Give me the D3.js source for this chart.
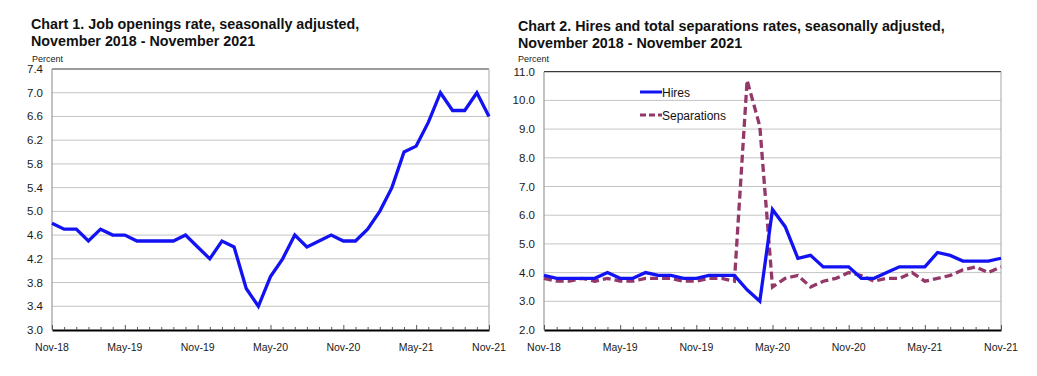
<!DOCTYPE html>
<html>
<head>
<meta charset="utf-8">
<title>JOLTS charts</title>
<script src="https://d3js.org/d3.v7.min.js"></script>
<style>
  body { margin: 0; background: #fff; }
  svg { display: block; font-family: "Liberation Sans", Arial, sans-serif; }
</style>
</head>
<body>
<div id="viz"></div>
<script>

// months, Nov 2018 - Nov 2021
var months = ["Nov-18","Dec-18","Jan-19","Feb-19","Mar-19","Apr-19","May-19","Jun-19","Jul-19","Aug-19","Sep-19","Oct-19",
              "Nov-19","Dec-19","Jan-20","Feb-20","Mar-20","Apr-20","May-20","Jun-20","Jul-20","Aug-20","Sep-20","Oct-20",
              "Nov-20","Dec-20","Jan-21","Feb-21","Mar-21","Apr-21","May-21","Jun-21","Jul-21","Aug-21","Sep-21","Oct-21","Nov-21"];
var xTickLabels = ["Nov-18","May-19","Nov-19","May-20","Nov-20","May-21","Nov-21"];

// chart 1 - job openings rate
var jobOpenings = [4.8,4.7,4.7,4.5,4.7,4.6,4.6,4.5,4.5,4.5,4.5,4.6,
                   4.4,4.2,4.5,4.4,3.7,3.4,3.9,4.2,4.6,4.4,4.5,4.6,
                   4.5,4.5,4.7,5.0,5.4,6.0,6.1,6.5,7.0,6.7,6.7,7.0,6.6];
var yTicks1 = [3.0,3.4,3.8,4.2,4.6,5.0,5.4,5.8,6.2,6.6,7.0,7.4];

// chart 2 - hires and total separations
var hires = [3.9,3.8,3.8,3.8,3.8,4.0,3.8,3.8,4.0,3.9,3.9,3.8,
             3.8,3.9,3.9,3.9,3.4,3.0,6.2,5.6,4.5,4.6,4.2,4.2,
             4.2,3.8,3.8,4.0,4.2,4.2,4.2,4.7,4.6,4.4,4.4,4.4,4.5];
var separations = [3.8,3.7,3.7,3.8,3.7,3.8,3.7,3.7,3.8,3.8,3.8,3.7,
                   3.7,3.8,3.8,3.7,10.7,9.1,3.5,3.8,3.9,3.5,3.7,3.8,
                   4.0,3.9,3.7,3.8,3.8,4.0,3.7,3.8,3.9,4.1,4.2,4.0,4.2];
var yTicks2 = [2.0,3.0,4.0,5.0,6.0,7.0,8.0,9.0,10.0,11.0];
var legendLabels = ["Hires","Separations"];

var svg = d3.select("#viz").append("svg")
    .attr("width", 1037)
    .attr("height", 376);

// draws one chart panel; returns its scales
function drawPanel(opt) {
  var x = d3.scalePoint().domain(months).range([opt.left, opt.right]);
  var y = d3.scaleLinear().domain([opt.yTicks[0], opt.yTicks[opt.yTicks.length - 1]])
    .range([opt.bottom, opt.top]);

  var g = svg.append("g");

  // titles
  g.append("text").attr("x", opt.titleX).attr("y", opt.titleY)
    .style("font-size", "14.3px").style("font-weight", "bold").attr("fill", "#111")
    .text(opt.title[0]);
  g.append("text").attr("x", opt.titleX).attr("y", opt.titleY + 17)
    .style("font-size", "14.3px").style("font-weight", "bold").attr("fill", "#111")
    .text(opt.title[1]);
  g.append("text").attr("x", opt.percentX).attr("y", 62)
    .style("font-size", "9px").attr("fill", "#222")
    .text("Percent");

  // gridlines
  g.append("g").selectAll("line")
    .data(opt.yTicks.slice(1, -1))
    .enter().append("line")
      .attr("x1", opt.left).attr("x2", opt.right)
      .attr("y1", function(d) { return y(d); })
      .attr("y2", function(d) { return y(d); })
      .attr("stroke", "#c4c4c4").attr("stroke-width", 1);

  // frame: top dark, left + right gray
  g.append("line").attr("x1", opt.left).attr("x2", opt.right)
    .attr("y1", y(opt.yTicks[opt.yTicks.length - 1])).attr("y2", y(opt.yTicks[opt.yTicks.length - 1]))
    .attr("stroke", "#3a3a3a").attr("stroke-width", 1.2);
  g.append("line").attr("x1", opt.right).attr("x2", opt.right)
    .attr("y1", opt.top).attr("y2", opt.bottom)
    .attr("stroke", "#b4b4b4").attr("stroke-width", 1.2);
  g.append("line").attr("x1", opt.left).attr("x2", opt.left)
    .attr("y1", opt.top).attr("y2", opt.bottom)
    .attr("stroke", "#9a9a9a").attr("stroke-width", 1.2);

  // y labels
  g.append("g").selectAll("text")
    .data(opt.yTicks)
    .enter().append("text")
      .attr("x", opt.left - 9)
      .attr("y", function(d) { return y(d) + 4; })
      .attr("text-anchor", "end")
      .style("font-size", "11.5px").attr("fill", "#1a1a1a")
      .text(function(d) { return d.toFixed(1); });

  // x axis with small inside ticks
  var xAxis = g.append("g")
    .attr("transform", "translate(0," + opt.bottom + ")")
    .call(d3.axisBottom(x).tickSizeInner(-3).tickSizeOuter(0).tickFormat(""));
  xAxis.select(".domain").attr("stroke", "#000").attr("stroke-width", 2);
  xAxis.selectAll(".tick line").attr("stroke", "#555")
    .attr("y2", function(d) { return xTickLabels.indexOf(d) >= 0 ? -5 : -3; });

  g.append("g").selectAll("text")
    .data(xTickLabels)
    .enter().append("text")
      .attr("x", function(d) { return x(d); })
      .attr("y", 351)
      .attr("text-anchor", "middle")
      .style("font-size", "10.5px").attr("fill", "#1a1a1a")
      .text(function(d) { return d; });

  return { x: x, y: y, g: g };
}

function drawLine(p, values, color, dash) {
  var line = d3.line()
    .x(function(d, i) { return p.x(months[i]); })
    .y(function(d) { return p.y(d); });
  p.g.append("path")
    .datum(values)
    .attr("d", line)
    .attr("fill", "none")
    .attr("stroke", color)
    .attr("stroke-width", 3.3)
    .attr("stroke-linejoin", "miter")
    .attr("stroke-dasharray", dash || null);
}

// Chart 1
var p1 = drawPanel({
  left: 52, right: 489, top: 69, bottom: 330,
  yTicks: yTicks1,
  titleX: 31, titleY: 29, percentX: 32,
  title: ["Chart 1. Job openings rate, seasonally adjusted,", "November 2018 - November 2021"]
});
drawLine(p1, jobOpenings, "#1212f2");

// Chart 2
var p2 = drawPanel({
  left: 544, right: 1001, top: 71.7, bottom: 330,
  yTicks: yTicks2,
  titleX: 518, titleY: 30.5, percentX: 518,
  title: ["Chart 2. Hires and total separations rates, seasonally adjusted,", "November 2018 - November 2021"]
});
drawLine(p2, separations, "#943769", "8,4");
drawLine(p2, hires, "#1212f2");

// legend
var legend = svg.append("g").selectAll("g")
  .data(legendLabels)
  .enter().append("g")
    .attr("transform", function(d, i) { return "translate(640," + (92 + i * 23) + ")"; });
legend.append("line")
  .attr("x1", 0).attr("x2", 22).attr("y1", 0).attr("y2", 0)
  .attr("stroke", function(d, i) { return i === 0 ? "#1212f2" : "#943769"; })
  .attr("stroke-width", 3)
  .attr("stroke-dasharray", function(d, i) { return i === 0 ? null : "6,3"; });
legend.append("text")
  .attr("x", 22).attr("y", 4.5)
  .style("font-size", "12px").attr("fill", "#111")
  .text(function(d) { return d; });

</script>
</body>
</html>
